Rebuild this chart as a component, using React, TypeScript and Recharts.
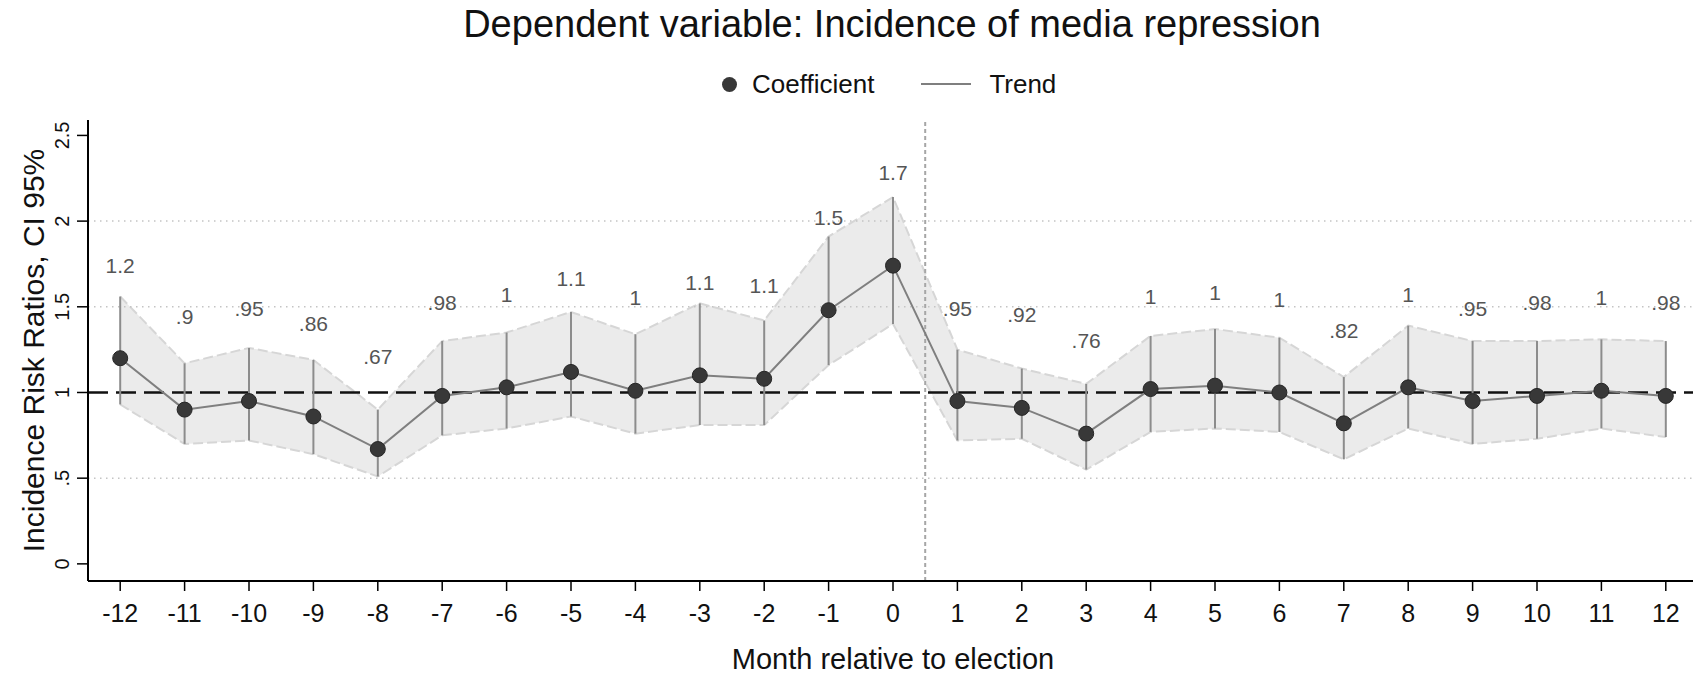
import React from 'react';
import {
  ComposedChart, Area, Line, Scatter, XAxis, YAxis, ReferenceLine, ErrorBar, LabelList, Legend, Label,
} from 'recharts';

// months relative to election
const months = [-12, -11, -10, -9, -8, -7, -6, -5, -4, -3, -2, -1, 0, 1, 2, 3, 4, 5, 6, 7, 8, 9, 10, 11, 12];
// incidence risk ratios (point estimates)
const coef = [1.2, 0.9, 0.95, 0.86, 0.67, 0.98, 1.03, 1.12, 1.01, 1.1, 1.08, 1.48, 1.74, 0.95, 0.91, 0.76, 1.02, 1.04, 1.0, 0.82, 1.03, 0.95, 0.98, 1.01, 0.98];
// 95% CI bounds
const lower = [0.93, 0.7, 0.72, 0.64, 0.51, 0.75, 0.79, 0.86, 0.76, 0.81, 0.81, 1.16, 1.4, 0.72, 0.73, 0.55, 0.77, 0.79, 0.77, 0.61, 0.79, 0.7, 0.73, 0.79, 0.74];
const upper = [1.56, 1.17, 1.26, 1.19, 0.9, 1.3, 1.35, 1.47, 1.34, 1.52, 1.42, 1.91, 2.14, 1.25, 1.14, 1.05, 1.33, 1.37, 1.32, 1.09, 1.39, 1.3, 1.3, 1.31, 1.3];
// marker labels as printed
const pointLabels = ['1.2', '.9', '.95', '.86', '.67', '.98', '1', '1.1', '1', '1.1', '1.1', '1.5', '1.7', '.95', '.92', '.76', '1', '1', '1', '.82', '1', '.95', '.98', '1', '.98'];
const yTicks = [0, 0.5, 1, 1.5, 2, 2.5];
const yTickLabels = ['0', '.5', '1', '1.5', '2', '2.5'];

const FONT = '"Liberation Sans", Arial, Helvetica, sans-serif';

const data = months.map((m, i) => ({
  month: m,
  coef: coef[i],
  ci: [lower[i], upper[i]],
  err: [coef[i] - lower[i], upper[i] - coef[i]],
  label: pointLabels[i],
}));

const XTick = (props: any) => {
  const { x, y, payload } = props;
  return (
    <text x={x} y={y + 20} textAnchor="middle" dominantBaseline="central" fontSize={25} fill="#111" fontFamily={FONT}>
      {payload.value}
    </text>
  );
};

const YTick = (props: any) => {
  const { x, y, payload } = props;
  const idx = yTicks.indexOf(payload.value);
  const tx = x - 13;
  return (
    <text x={tx} y={y} transform={`rotate(-90, ${tx}, ${y})`} textAnchor="middle" dominantBaseline="central" fontSize={20} fill="#111" fontFamily={FONT}>
      {idx >= 0 ? yTickLabels[idx] : payload.value}
    </text>
  );
};

const Dot = (props: any) => (
  <circle cx={props.cx} cy={props.cy} r={7.5} fill="#383838" stroke="#262626" strokeWidth={1} />
);

const PointLabel = (props: any) => {
  const vb = props.viewBox || props;
  const cx = vb.x + (vb.width || 0) / 2;
  const cy = vb.y + (vb.height || 0) / 2;
  return (
    <text x={cx} y={cy - 93} textAnchor="middle" dominantBaseline="central" fontSize={21} fill="#555" fontFamily={FONT}>
      {props.value}
    </text>
  );
};

const LegendContent = () => (
  <div style={{ display: 'flex', alignItems: 'center', paddingLeft: 722, fontSize: 26, height: 30, color: '#111', fontFamily: FONT }}>
    <svg width={15} height={15}><circle cx={7.5} cy={7.5} r={7.5} fill="#383838" /></svg>
    <span style={{ marginLeft: 15 }}>Coefficient</span>
    <svg width={50} height={4} style={{ marginLeft: 47 }}><line x1={0} y1={2} x2={50} y2={2} stroke="#7f7f7f" strokeWidth={2} /></svg>
    <span style={{ marginLeft: 18 }}>Trend</span>
  </div>
);

export default function App() {
  return (
    <div style={{ position: 'absolute', left: 0, top: 0, width: 1693, height: 677, overflow: 'hidden', background: '#fff', fontFamily: FONT }}>
      <div style={{ position: 'absolute', left: 0, top: 0, width: 1784, textAlign: 'center', fontSize: 38, lineHeight: '48px', color: '#111' }}>
        Dependent variable: Incidence of media repression
      </div>
      <ComposedChart width={1698} height={677} data={data} margin={{ top: 120, right: 0, bottom: 0, left: 0 }}>
        <XAxis
          dataKey="month" type="number" domain={[-12.5, 12.5]} ticks={months} interval={0}
          height={96} tickSize={10} tick={<XTick />}
          axisLine={{ stroke: '#000', strokeWidth: 2 }} tickLine={{ stroke: '#000', strokeWidth: 1.5 }}
        >
          <Label content={(p: any) => (
            <text x={p.viewBox.x + p.viewBox.width / 2} y={659} textAnchor="middle" dominantBaseline="central" fontSize={29} fill="#111" fontFamily={FONT}>
              Month relative to election
            </text>
          )} />
        </XAxis>
        <XAxis xAxisId="top" orientation="top" dataKey="month" type="number" domain={[-12.5, 12.5]} height={0}
          tick={false} tickLine={false} axisLine={{ stroke: '#222', strokeWidth: 2 }} />
        <YAxis
          type="number" domain={[-0.1, 2.59]} ticks={yTicks} interval={0} width={88} tickSize={11}
          tick={<YTick />} axisLine={{ stroke: '#000', strokeWidth: 2 }} tickLine={{ stroke: '#000', strokeWidth: 1.5 }}
        >
          <Label content={(p: any) => {
            const cy = p.viewBox.y + p.viewBox.height / 2;
            return (
              <text x={33} y={cy} transform={`rotate(-90, 33, ${cy})`} textAnchor="middle" dominantBaseline="central" fontSize={30} fill="#111" fontFamily={FONT}>
                Incidence Risk Ratios, CI 95%
              </text>
            );
          }} />
        </YAxis>
        <Legend verticalAlign="middle" align="center" content={<LegendContent />}
          wrapperStyle={{ top: 69, left: 0, width: 1693, margin: 0, padding: 0 }} />

        <ReferenceLine y={0.5} stroke="#c4c4c4" strokeDasharray="1.5 4.5" strokeWidth={1.5} />
        <ReferenceLine y={1.5} stroke="#c4c4c4" strokeDasharray="1.5 4.5" strokeWidth={1.5} />
        <ReferenceLine y={2} stroke="#c4c4c4" strokeDasharray="1.5 4.5" strokeWidth={1.5} />

        <Area dataKey="ci" type="linear" fill="#ebebeb" fillOpacity={1} stroke="#d6d6d6" strokeDasharray="10 4"
          strokeWidth={2} dot={false} activeDot={false} isAnimationActive={false} legendType="none" />
        <ReferenceLine x={0.5} stroke="#a6a6a6" strokeDasharray="4 3" strokeWidth={2} />
        <ReferenceLine y={1} stroke="#111" strokeDasharray="20 8" strokeWidth={2.5} />
        <Line dataKey="coef" type="linear" stroke="#7f7f7f" strokeWidth={2} dot={false} activeDot={false}
          isAnimationActive={false} name="Trend" />
        <Scatter dataKey="coef" fill="#383838" shape={<Dot />} isAnimationActive={false} name="Coefficient">
          <ErrorBar dataKey="err" direction="y" width={0} stroke="#8c8c8c" strokeWidth={2} />
          <LabelList dataKey="label" content={<PointLabel />} />
        </Scatter>
      </ComposedChart>
    </div>
  );
}
